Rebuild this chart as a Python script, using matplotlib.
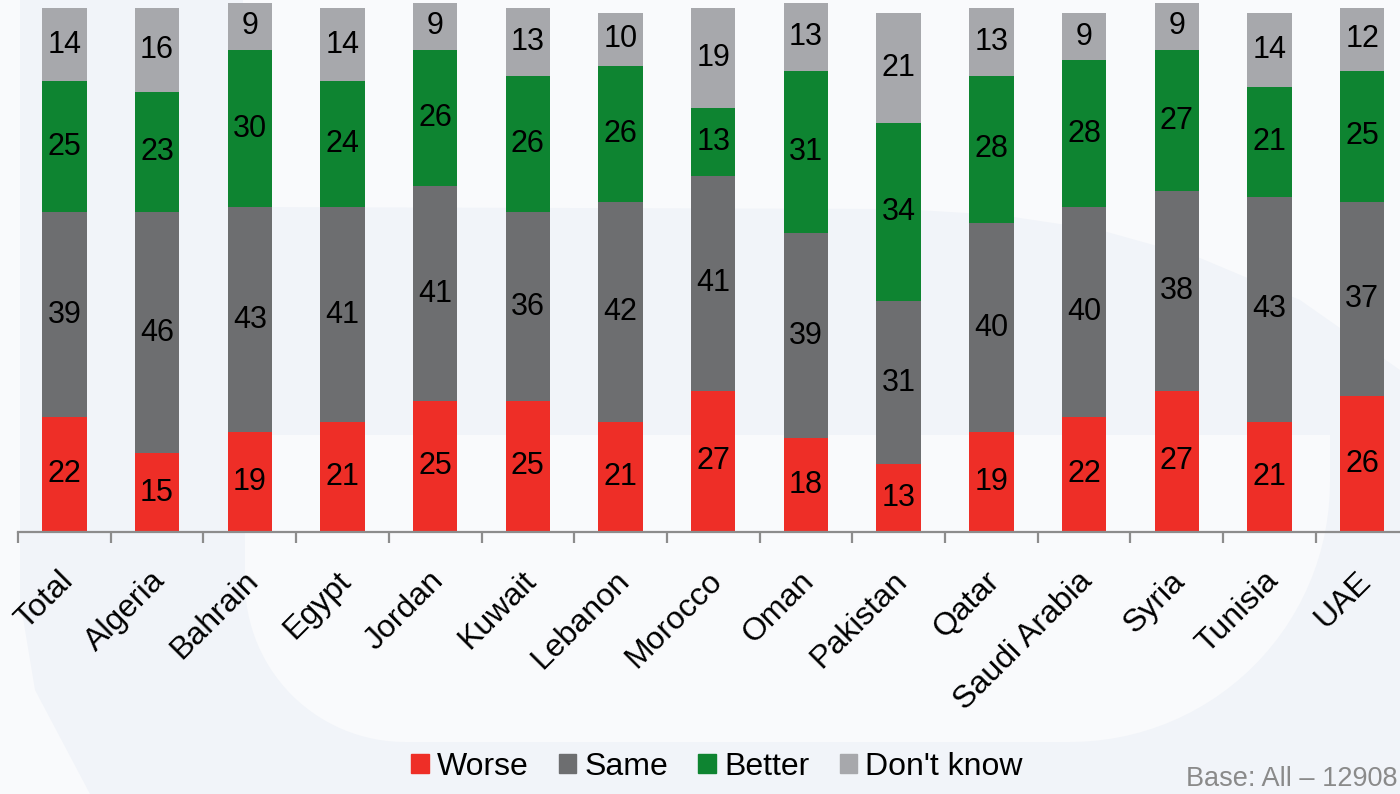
import matplotlib
matplotlib.use("Agg")
import matplotlib.pyplot as plt
import matplotlib.transforms as mtransforms
from matplotlib.patches import Patch, Polygon
import numpy as np

plt.rcParams['font.family'] = ['Liberation Sans', 'DejaVu Sans']

countries = ['Total', 'Algeria', 'Bahrain', 'Egypt', 'Jordan', 'Kuwait', 'Lebanon',
             'Morocco', 'Oman', 'Pakistan', 'Qatar', 'Saudi Arabia', 'Syria',
             'Tunisia', 'UAE']
worse = [22, 15, 19, 21, 25, 25, 21, 27, 18, 13, 19, 22, 27, 21, 26]
same = [39, 46, 43, 41, 41, 36, 42, 41, 39, 31, 40, 40, 38, 43, 37]
better = [25, 23, 30, 24, 26, 26, 26, 13, 31, 34, 28, 28, 27, 21, 25]
dont_know = [14, 16, 9, 14, 9, 13, 10, 19, 13, 21, 13, 9, 9, 14, 12]

series = [('Worse', worse, '#ee2e27'),
          ('Same', same, '#6d6e70'),
          ('Better', better, '#0e8431'),
          ("Don't know", dont_know, '#a7a8ac')]

W, H = 1400, 794
fig = plt.figure(figsize=(W / 100, H / 100), dpi=100)

# soft watermark-like background in pixel coordinates
bg = fig.add_axes([0, 0, 1, 1], zorder=-10)
bg.set_xlim(0, W)
bg.set_ylim(H, 0)
bg.axis('off')
bg.add_patch(plt.Rectangle((0, 0), W, H, color='#f1f4f9', lw=0))
light = '#f9fafc'

top_pts = [(243, 0), (W, 0), (W, 370), (1300, 300), (1200, 258),
           (1100, 230), (1000, 215), (900, 209), (243, 207)]
bg.add_patch(Polygon(top_pts, closed=True, color=light, lw=0))

low = [(245, 435)]
t = np.linspace(np.pi, np.pi / 2, 30)
low += list(zip(405 + 160 * np.cos(t), 582 + 160 * np.sin(t)))
t = np.linspace(np.pi / 2, 0, 30)
low += list(zip(1070 + 260 * np.cos(t), 482 + 260 * np.sin(t)))
low += [(1330, 435)]
bg.add_patch(Polygon(low, closed=True, color=light, lw=0))

left_pts = [(0, 0), (20, 0), (20, 600), (35, 690), (90, H), (0, H)]
bg.add_patch(Polygon(left_pts, closed=True, color=light, lw=0))

# main chart
slot = 92.7
ax = fig.add_axes([18 / W, (H - 532) / H, 15 * slot / W, 101.5 * 5.24 / H])
ax.patch.set_alpha(0)

x = np.arange(len(countries))
bottom = np.zeros(len(countries))
handles = []
for name, vals, color in series:
    bars = ax.bar(x, vals, width=0.48, bottom=bottom, color=color, label=name,
                  clip_on=False)
    ax.bar_label(bars, label_type='center', fontsize=22, color='black')
    bottom += np.array(vals)
    handles.append(Patch(color=color, label=name))

ax.set_xlim(-0.5, len(countries) - 0.5)
ax.set_ylim(0, 101.5)

for side in ['top', 'right', 'left']:
    ax.spines[side].set_visible(False)
ax.spines['bottom'].set_color('#8c8c8c')
ax.spines['bottom'].set_linewidth(1.6)
ax.set_yticks([])

ax.set_xticks(x)
ax.set_xticklabels(countries, rotation=45, ha='right', va='center',
                   rotation_mode='anchor', fontsize=23)
ax.set_xticks(np.arange(len(countries) + 1) - 0.5, minor=True)
ax.tick_params(axis='x', which='major', length=0, pad=32)
ax.tick_params(axis='x', which='minor', length=8, width=1.6, color='#8c8c8c',
               direction='out')
offset = mtransforms.ScaledTranslation(3 / 72, 0, fig.dpi_scale_trans)
for lbl in ax.get_xticklabels():
    lbl.set_transform(lbl.get_transform() + offset)

fig.legend(handles=handles, loc='center', bbox_to_anchor=(0.512, 1 - 767 / H),
           ncol=4, frameon=False, fontsize=23, handlelength=0.55,
           handleheight=0.55, handletextpad=0.25, columnspacing=0.95)

fig.text(1398 / W, 1 - 779 / H, 'Base: All \u2013 12908', fontsize=19.5,
         color='#8a8a8a', ha='right', va='center')

fig.savefig('out.png', dpi=100)
